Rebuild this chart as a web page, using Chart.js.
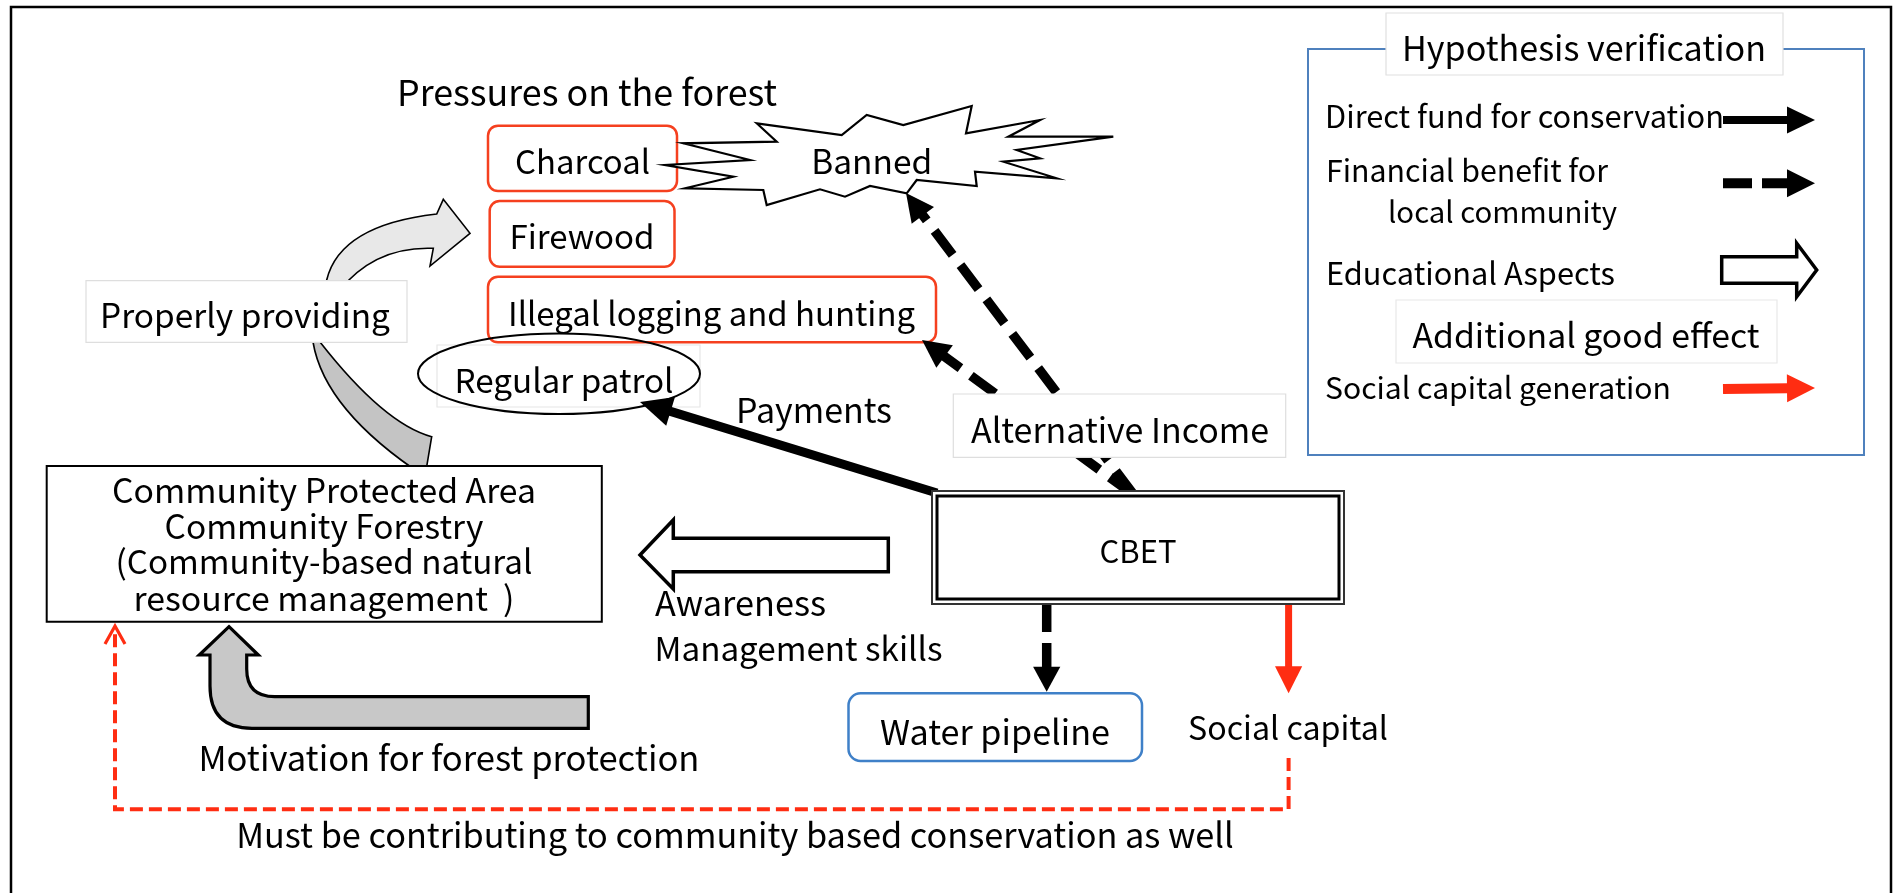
<!DOCTYPE html>
<html><head><meta charset="utf-8">
<script src="https://cdn.jsdelivr.net/npm/chart.js@4.4.1/dist/chart.umd.min.js"></script>
<style>html,body{margin:0;padding:0;background:#fff;overflow:hidden}canvas{display:block}</style>
</head><body>
<canvas id="c" width="1898" height="893"></canvas>
<script>
// ---------- content ----------
const pressureTitle = 'Pressures on the forest';
const pressureLabels = ['Charcoal', 'Firewood', 'Illegal logging and hunting'];
const bannedLabel = 'Banned';
const hubLabel = 'CBET';
const areaLabels = ['Community Protected Area', 'Community Forestry', '(Community-based natural', 'resource management  )'];
const flowLabels = ['Properly providing', 'Regular patrol', 'Payments', 'Alternative Income', 'Awareness',
  'Management skills', 'Water pipeline', 'Social capital', 'Motivation for forest protection',
  'Must be contributing to community based conservation as well'];
const legendTitle = 'Hypothesis verification';
const legendLabels = ['Direct fund for conservation', 'Financial benefit for', 'local community', 'Educational Aspects', 'Social capital generation'];
const legendSubTitle = 'Additional good effect';

// ---------- layout (diagram coordinates) ----------
const FONT = '"Noto Sans CJK JP", "Noto Sans", sans-serif';
const RED = '#ff2d12';
const L = {
  title: [587, 92, 380],
  pressure: [[582.6, 161.7, 135], [582, 236.7, 145], [711.5, 313.3, 407]],
  pressureBox: [[488, 125.7, 677, 191], [489.7, 201, 674.5, 266.7], [488, 276.7, 936, 342.3]],
  banned: [871.7, 161.7, 121],
  star: [[756.7,123.3],[776.7,141.7],[683.3,143.3],[750,160],[665,165],[733.3,176.7],[685,188.3],[763.3,190],[766.7,205],[820,189.3],[845,196.7],[870,186],[906.7,193.3],[916.7,180],[976.7,186],[975,171.7],[1056.7,178.3],[1003.3,161.7],[1040,158.3],[1016.7,150],[1113.3,136.7],[1008.3,136.7],[1040,120],[966,133.3],[971.7,106],[903.3,125],[866.7,115],[841.7,135]],
  hub: [1138, 551.7, 77],
  hubBox: [932, 491, 1344, 604],
  area: [[324, 490, 424], [324, 526, 319], [324, 561.7, 417], [324, 598.3, 381]],
  areaBox: [46.7, 466, 601.8, 621.7],
  flow: [[245, 315, 290, 'center'], [564, 380, 219, 'center'], [814, 410, 156, 'center'], [1120, 430, 298, 'center'],
         [655, 603, 171, 'left'], [654.5, 648, 288, 'left'], [995, 731.7, 230, 'center'], [1288, 728, 200, 'center'],
         [198.5, 758.3, 501, 'left'], [735, 835, 998, 'center']],
  provBox: [86, 280.7, 407, 342.3],
  altBox: [953.3, 394, 1285.7, 457.3],
  patrolRect: [437, 345, 700, 407],
  patrolEllipse: [559, 373.7, 141, 40.3],
  waterBox: [848.5, 693.3, 1142, 761],
  legendBox: [1308, 49, 1864, 455],
  legendTitleBox: [1386, 13, 1783, 75],
  legendTitle: [1584, 48.3, 364],
  legend: [[1325, 116.7, 399], [1326, 170.7, 282], [1388, 211.7, 229], [1326, 273, 289], [1325, 388, 346]],
  legendSubBox: [1396, 300, 1777, 363],
  legendSub: [1586, 335, 347],
  feedback: [{x: 1288.6, y: 758}, {x: 1288.6, y: 809.3}, {x: 115, y: 809.3}, {x: 115, y: 627}]
};

// ---------- helpers ----------
function conv(chart) {
  const xs = chart.scales.x, ys = chart.scales.y;
  const X = v => xs.getPixelForValue(v), Y = v => ys.getPixelForValue(v);
  const k = Math.abs(X(1000) - X(0)) / 1000;
  return {X, Y, k};
}
function txt(ctx, c, s, x, y, w, align) {
  ctx.font = '100px ' + FONT;
  const m = ctx.measureText(s).width;
  const size = 100 * w * c.k / m;
  ctx.font = size.toFixed(2) + 'px ' + FONT;
  ctx.fillStyle = '#000';
  ctx.textAlign = align || 'center';
  ctx.textBaseline = 'middle';
  ctx.fillText(s, c.X(x), c.Y(y));
}
function rect(ctx, c, b, stroke, lw, fill, r) {
  const x0 = c.X(b[0]), y0 = c.Y(b[1]), x1 = c.X(b[2]), y1 = c.Y(b[3]);
  ctx.beginPath();
  if (r) ctx.roundRect(x0, y0, x1 - x0, y1 - y0, r * c.k); else ctx.rect(x0, y0, x1 - x0, y1 - y0);
  if (fill) { ctx.fillStyle = fill; ctx.fill(); }
  if (stroke) { ctx.strokeStyle = stroke; ctx.lineWidth = lw * c.k; ctx.stroke(); }
}
function poly(ctx, c, pts, stroke, lw, fill) {
  ctx.beginPath();
  pts.forEach((p, i) => i ? ctx.lineTo(c.X(p[0]), c.Y(p[1])) : ctx.moveTo(c.X(p[0]), c.Y(p[1])));
  ctx.closePath();
  if (fill) { ctx.fillStyle = fill; ctx.fill(); }
  if (stroke) { ctx.strokeStyle = stroke; ctx.lineWidth = lw * c.k; ctx.lineJoin = 'miter'; ctx.stroke(); }
}
function arrow(ctx, c, from, to, width, headLen, headHalf, color, dash, headOnly) {
  const fx = c.X(from[0]), fy = c.Y(from[1]), tx = c.X(to[0]), ty = c.Y(to[1]);
  const dx = tx - fx, dy = ty - fy, len = Math.hypot(dx, dy), ux = dx / len, uy = dy / len;
  const bx = tx - ux * headLen * c.k, by = ty - uy * headLen * c.k;
  ctx.save();
  if (!headOnly) {
    ctx.strokeStyle = color; ctx.lineWidth = width * c.k; ctx.lineCap = 'butt';
    ctx.setLineDash(dash ? dash.map(d => d * c.k) : []);
    ctx.beginPath(); ctx.moveTo(fx, fy); ctx.lineTo(bx + ux * 1, by + uy * 1); ctx.stroke();
    ctx.setLineDash([]);
  }
  ctx.fillStyle = color;
  ctx.beginPath();
  ctx.moveTo(tx, ty);
  ctx.lineTo(bx - uy * headHalf * c.k, by + ux * headHalf * c.k);
  ctx.lineTo(bx + uy * headHalf * c.k, by - ux * headHalf * c.k);
  ctx.closePath(); ctx.fill();
  ctx.restore();
}

function drawDiagram(chart) {
  const ctx = chart.ctx, c = conv(chart);
  const X = c.X, Y = c.Y;
  ctx.save();
  // outer frame
  ctx.strokeStyle = '#000'; ctx.lineWidth = 2.5 * c.k;
  ctx.strokeRect(X(11), Y(7), X(1891) - X(11), Y(905) - Y(7));

  // curved "properly providing" arrow (back part, front part)
  ctx.beginPath();
  ctx.moveTo(X(318), Y(300)); ctx.lineTo(X(313), Y(342));
  ctx.quadraticCurveTo(X(324.4), Y(410.5), X(425), Y(476.7));
  ctx.lineTo(X(431.7), Y(436.7));
  ctx.quadraticCurveTo(X(384.2), Y(424), X(320), Y(342));
  ctx.lineTo(X(322), Y(300)); ctx.closePath();
  ctx.fillStyle = '#c4c4c4'; ctx.fill(); ctx.strokeStyle = '#000'; ctx.lineWidth = 1.6 * c.k; ctx.stroke();
  ctx.beginPath();
  ctx.moveTo(X(322), Y(300)); ctx.lineTo(X(326.7), Y(280));
  ctx.quadraticCurveTo(X(340), Y(225), X(436.7), Y(214));
  ctx.lineTo(X(443.3), Y(199.3)); ctx.lineTo(X(470), Y(233.3)); ctx.lineTo(X(430), Y(266)); ctx.lineTo(X(433.3), Y(248.3));
  ctx.quadraticCurveTo(X(374.4), Y(245.9), X(338), Y(292));
  ctx.lineTo(X(336), Y(300)); ctx.closePath();
  ctx.fillStyle = '#e8e8e8'; ctx.fill(); ctx.stroke();
  rect(ctx, c, L.provBox, '#dedede', 1.2, '#fff');
  txt(ctx, c, flowLabels[0], ...L.flow[0]);

  // pressures
  txt(ctx, c, pressureTitle, ...L.title, 'center');
  L.pressureBox.forEach((b, i) => { rect(ctx, c, b, '#f5401f', 2.5, '#fff', 10); txt(ctx, c, pressureLabels[i], ...L.pressure[i], 'center'); });
  poly(ctx, c, L.star, '#000', 2.2, '#fff');
  txt(ctx, c, bannedLabel, ...L.banned, 'center');

  // regular patrol
  rect(ctx, c, L.patrolRect, '#e6e6e6', 1.2, null);
  const e = L.patrolEllipse;
  ctx.beginPath(); ctx.ellipse(X(e[0]), Y(e[1]), e[2] * c.k, e[3] * c.k, 0, 0, Math.PI * 2);
  ctx.strokeStyle = '#000'; ctx.lineWidth = 2 * c.k; ctx.stroke();
  txt(ctx, c, flowLabels[1], ...L.flow[1]);
  txt(ctx, c, flowLabels[2], ...L.flow[2]);

  // dashed financial arrows from CBET
  const dashLong = [30, 13];
  const orig = [1134, 495];
  const targets = [[906, 193], [922, 340]];
  ctx.save(); ctx.strokeStyle = '#000'; ctx.lineWidth = 9.5 * c.k; ctx.setLineDash(dashLong.map(d => d * c.k));
  targets.forEach(t => {
    const dx = t[0] - orig[0], dy = t[1] - orig[1], ln = Math.hypot(dx, dy);
    ctx.beginPath(); ctx.moveTo(X(orig[0]), Y(orig[1])); ctx.lineTo(X(t[0] - dx / ln * 26), Y(t[1] - dy / ln * 26)); ctx.stroke();
  });
  ctx.restore();
  rect(ctx, c, L.altBox, '#dedede', 1.2, '#fff');
  txt(ctx, c, flowLabels[3], ...L.flow[3]);
  targets.forEach(t => arrow(ctx, c, orig, t, 9.5, 28, 14, '#000', null, true));

  // solid payment arrow
  arrow(ctx, c, [937, 493], [640, 402], 9, 32, 15, '#000');

  // CBET double box
  rect(ctx, c, L.hubBox, '#333', 2, '#fff');
  rect(ctx, c, [L.hubBox[0] + 5, L.hubBox[1] + 5, L.hubBox[2] - 5, L.hubBox[3] - 5], '#000', 3, null);
  txt(ctx, c, hubLabel, ...L.hub, 'center');

  // community area box
  rect(ctx, c, L.areaBox, '#000', 2, '#fff');
  L.area.forEach((a, i) => txt(ctx, c, areaLabels[i], ...a, 'center'));

  // hollow educational arrow
  poly(ctx, c, [[640, 555], [673.3, 520], [673.3, 538.3], [888.3, 538.3], [888.3, 571.7], [673.3, 571.7], [673.3, 589]], '#000', 3.5, '#fff');
  txt(ctx, c, flowLabels[4], ...L.flow[4]);
  txt(ctx, c, flowLabels[5], ...L.flow[5]);

  // arrows down from CBET
  arrow(ctx, c, [1046.7, 605], [1046.7, 691.7], 9.5, 25, 13.6, '#000', [27, 11]);
  arrow(ctx, c, [1288.6, 605], [1288.6, 693.3], 7, 27, 13.6, RED);
  rect(ctx, c, L.waterBox, '#3f80c8', 2.5, '#fff', 12);
  txt(ctx, c, flowLabels[6], ...L.flow[6]);
  txt(ctx, c, flowLabels[7], ...L.flow[7]);

  // U-shaped motivation arrow
  ctx.beginPath();
  ctx.moveTo(X(229), Y(626.7)); ctx.lineTo(X(258.3), Y(655)); ctx.lineTo(X(246.7), Y(655)); ctx.lineTo(X(246.7), Y(669));
  ctx.quadraticCurveTo(X(246.7), Y(696.7), X(274.7), Y(696.7));
  ctx.lineTo(X(588.3), Y(696.7)); ctx.lineTo(X(588.3), Y(728.3)); ctx.lineTo(X(252), Y(728.3));
  ctx.quadraticCurveTo(X(210), Y(728.3), X(210), Y(686));
  ctx.lineTo(X(210), Y(655)); ctx.lineTo(X(199.3), Y(655)); ctx.closePath();
  ctx.fillStyle = '#c8c8c8'; ctx.fill(); ctx.strokeStyle = '#000'; ctx.lineWidth = 3.2 * c.k; ctx.lineJoin = 'miter'; ctx.stroke();
  txt(ctx, c, flowLabels[8], ...L.flow[8]);
  txt(ctx, c, flowLabels[9], ...L.flow[9]);

  // legend
  rect(ctx, c, L.legendBox, '#4f81bd', 2, null);
  rect(ctx, c, L.legendTitleBox, '#e0e0e0', 1.2, '#fff');
  txt(ctx, c, legendTitle, ...L.legendTitle, 'center');
  L.legend.forEach((p, i) => txt(ctx, c, legendLabels[i], ...p, 'left'));
  rect(ctx, c, L.legendSubBox, '#e8e8e8', 1.2, '#fff');
  txt(ctx, c, legendSubTitle, ...L.legendSub, 'center');
  arrow(ctx, c, [1723, 120], [1815, 120], 8, 28, 13.5, '#000');
  arrow(ctx, c, [1723, 183.3], [1815, 183.3], 10, 28, 14, '#000', [29, 10]);
  poly(ctx, c, [[1721.7, 256.7], [1796.7, 256.7], [1796.7, 243.3], [1816.7, 270], [1796.7, 296.7], [1796.7, 283.3], [1721.7, 283.3]], '#000', 3.5, '#fff');
  arrow(ctx, c, [1723, 389], [1815, 388], 10, 28, 14, RED);
  ctx.restore();
}

const diagramPlugin = {
  id: 'diagram',
  beforeDatasetsDraw(chart) { drawDiagram(chart); },
  afterDatasetsDraw(chart) {
    const ctx = chart.ctx, c = conv(chart);
    const tip = L.feedback[L.feedback.length - 1];
    ctx.save();
    ctx.strokeStyle = RED; ctx.lineWidth = 3.2 * c.k; ctx.lineJoin = 'miter';
    ctx.beginPath();
    ctx.moveTo(c.X(tip.x - 10), c.Y(tip.y + 17));
    ctx.lineTo(c.X(tip.x), c.Y(tip.y - 1));
    ctx.lineTo(c.X(tip.x + 10), c.Y(tip.y + 17));
    ctx.stroke();
    ctx.restore();
  }
};

new Chart(document.getElementById('c'), {
  type: 'scatter',
  data: {
    datasets: [{
      label: 'feedback',
      data: L.feedback,
      showLine: true,
      borderColor: RED,
      borderWidth: 4,
      borderDash: [13, 6],
      borderCapStyle: 'butt',
      borderJoinStyle: 'miter',
      pointRadius: 0,
      tension: 0,
      fill: false
    }]
  },
  options: {
    responsive: false,
    animation: false,
    events: [],
    layout: {padding: 0},
    plugins: {legend: {display: false}, tooltip: {enabled: false}},
    scales: {
      x: {type: 'linear', min: 0, max: 1898, display: false},
      y: {type: 'linear', min: 0, max: 893, reverse: true, display: false}
    }
  },
  plugins: [diagramPlugin]
});
</script>
</body></html>
